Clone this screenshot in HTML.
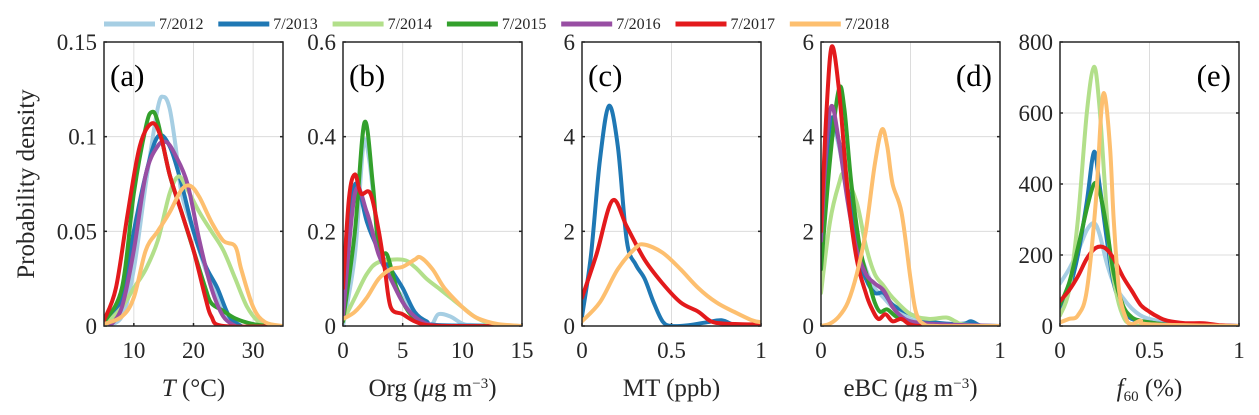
<!DOCTYPE html>
<html><head><meta charset="utf-8"><style>
html,body{margin:0;padding:0;background:#fff;}
svg{display:block;font-family:"Liberation Serif",serif;}
</style></head><body>
<svg id="chart" width="1259" height="415" viewBox="0 0 1259 415" xmlns="http://www.w3.org/2000/svg"></svg>
<script>
const years = ["7/2012","7/2013","7/2014","7/2015","7/2016","7/2017","7/2018"];
const colors = ["#a6cee3","#1f78b4","#b2df8a","#33a02c","#984ea3","#e31a1c","#fdbf6f"];

// Panel (a) T
const aX = {
 "7/2012":[5,8,10,12,14,15,16,17,18,20,22,24,26,28],
 "7/2013":[5,8,10,12,14,16,18,20,22,24,26,28],
 "7/2014":[5,8,10,12,14,16,17.5,19,21,23,25,27,29,31,33],
 "7/2015":[5,8,10,12,13,14,16,18,20,22,23,25,27,30,33],
 "7/2016":[6,8,10,12,14,15.5,17,19,21,23,25,27],
 "7/2017":[5,7,9,11,13,14.5,16,18,20,22,23,25,35],
 "7/2018":[5,8,10,12,14,16,18,19.5,21,23,25,27,28,30,32,35]};
const aY = {
 "7/2012":[0,0.005,0.03,0.075,0.115,0.121,0.115,0.095,0.07,0.05,0.03,0.015,0.003,0],
 "7/2013":[0,0.015,0.05,0.08,0.1,0.095,0.075,0.05,0.032,0.02,0.005,0],
 "7/2014":[0,0.01,0.02,0.03,0.045,0.07,0.079,0.072,0.06,0.05,0.04,0.025,0.01,0.002,0],
 "7/2015":[0.002,0.02,0.07,0.105,0.113,0.108,0.08,0.06,0.04,0.02,0.012,0.008,0.004,0.001,0],
 "7/2016":[0,0.01,0.04,0.08,0.095,0.097,0.09,0.075,0.045,0.02,0.005,0],
 "7/2017":[0.003,0.02,0.06,0.095,0.107,0.1,0.08,0.06,0.04,0.015,0.005,0,0],
 "7/2018":[0.001,0.005,0.015,0.04,0.05,0.06,0.072,0.074,0.068,0.055,0.045,0.042,0.03,0.01,0.002,0]};
// Panel (b) Org
const bX = {
 "7/2012":[0,1,1.7,2.2,3,4,5,6,7,7.5,8,9,10,11,15],
 "7/2013":[0,0.7,1.2,2,3,4,5,6,7,8,15],
 "7/2014":[0,1,2,3,5,6,7,8,9,10,11,12,13,15],
 "7/2015":[0,1,1.8,2.5,3,3.7,4.5,5.5,6.5,7.5,15],
 "7/2016":[0,1,2,3,4,5,6,7,8],
 "7/2017":[0,0.5,1,1.5,2.3,3,3.5,4,5,6,7,9,15],
 "7/2018":[0,1,2,3,4,5,6,6.5,7.5,8.5,10,11,12,13,15]};
const bY = {
 "7/2012":[0,0.15,0.38,0.35,0.18,0.1,0.06,0.02,0.005,0.005,0.025,0.02,0.005,0.002,0],
 "7/2013":[0.02,0.25,0.3,0.22,0.16,0.12,0.08,0.03,0.01,0.002,0],
 "7/2014":[0.01,0.06,0.11,0.135,0.14,0.125,0.1,0.08,0.06,0.04,0.02,0.008,0.002,0],
 "7/2015":[0.01,0.2,0.43,0.3,0.16,0.15,0.08,0.03,0.01,0,0],
 "7/2016":[0.02,0.28,0.24,0.15,0.1,0.05,0.02,0.005,0],
 "7/2017":[0.08,0.27,0.32,0.28,0.28,0.2,0.12,0.04,0.025,0.01,0.002,0,0],
 "7/2018":[0.015,0.03,0.06,0.1,0.12,0.125,0.14,0.145,0.12,0.08,0.04,0.02,0.01,0.004,0]};
// Panel (c) MT
const cX = {
 "7/2013":[0,0.05,0.1,0.15,0.2,0.25,0.3,0.35,0.4,0.45,0.5,0.6,0.7,0.78,0.85,0.9,1],
 "7/2017":[0,0.08,0.17,0.25,0.35,0.45,0.55,0.65,0.72,0.8,1],
 "7/2018":[0,0.1,0.2,0.3,0.35,0.45,0.55,0.65,0.75,0.85,0.95,1]};
const cY = {
 "7/2013":[0.2,1.5,3.5,4.65,3.8,1.8,1.3,1.0,0.5,0.1,0,0.02,0.08,0.12,0.02,0,0.05],
 "7/2017":[0.6,1.5,2.65,2.1,1.4,0.9,0.5,0.3,0.1,0.05,0.03],
 "7/2018":[0.1,0.5,1.2,1.65,1.72,1.55,1.2,0.8,0.5,0.3,0.12,0.08]};
// Panel (d) eBC
const dX = {
 "7/2012":[0,0.03,0.06,0.1,0.15,0.2,0.25,0.3,0.35,0.4,0.5,0.6,0.8,1],
 "7/2013":[0,0.03,0.06,0.1,0.15,0.2,0.25,0.3,0.35,0.4,0.5,0.6,0.7,0.8,0.84,0.9,1],
 "7/2014":[0,0.05,0.1,0.13,0.2,0.25,0.3,0.35,0.4,0.5,0.6,0.7,0.75,0.8,1],
 "7/2015":[0,0.05,0.1,0.13,0.17,0.22,0.27,0.3,0.33,0.37,0.42,0.5,0.6,1],
 "7/2016":[0,0.03,0.06,0.1,0.15,0.2,0.25,0.3,0.35,0.4,0.45,0.5,0.6,0.8,1],
 "7/2017":[0,0.03,0.06,0.1,0.15,0.2,0.25,0.28,0.32,0.36,0.4,0.45,0.5,0.6,1],
 "7/2018":[0,0.05,0.1,0.15,0.2,0.25,0.3,0.34,0.37,0.4,0.45,0.5,0.53,0.57,0.65,1]};
const dY = {
 "7/2012":[1.5,3.5,4.3,3.8,2.8,1.8,1.2,0.8,0.6,0.4,0.15,0.05,0.02,0],
 "7/2013":[1.6,3.5,4.4,3.9,2.9,1.6,1.0,0.7,0.7,0.45,0.25,0.1,0.05,0.05,0.1,0,0],
 "7/2014":[0.7,2.2,3.0,3.2,2.6,1.7,1.1,0.85,0.6,0.25,0.15,0.18,0.1,0.03,0],
 "7/2015":[1.2,3.5,5.0,4.6,3.0,1.6,0.9,0.5,0.3,0.35,0.2,0.08,0.02,0],
 "7/2016":[1.8,3.8,4.65,3.9,2.6,1.6,1.1,0.9,0.75,0.4,0.2,0.1,0.05,0.02,0],
 "7/2017":[2.0,4.5,5.9,5.0,2.8,1.4,0.7,0.4,0.15,0.25,0.1,0.15,0.03,0,0],
 "7/2018":[0,0.05,0.2,0.5,1.1,2.0,3.4,4.15,3.8,3.0,2.4,1.0,0.3,0.05,0,0]};
// Panel (e) f60
const eX = {
 "7/2012":[0,0.05,0.1,0.15,0.19,0.22,0.26,0.3,0.35,0.4,0.45,0.5,0.6,0.7,1],
 "7/2013":[0,0.05,0.1,0.15,0.19,0.22,0.26,0.3,0.35,0.4,0.5,0.6,1],
 "7/2014":[0,0.05,0.1,0.15,0.19,0.22,0.25,0.28,0.32,0.36,0.4,0.45,1],
 "7/2015":[0,0.05,0.1,0.15,0.19,0.22,0.26,0.3,0.35,0.4,0.45,0.5,0.6,0.7,1],
 "7/2017":[0,0.05,0.1,0.15,0.2,0.25,0.3,0.35,0.4,0.45,0.5,0.55,0.6,0.7,0.8,0.9,1],
 "7/2018":[0,0.05,0.1,0.15,0.2,0.23,0.25,0.28,0.3,0.33,0.37,0.4,0.45,0.5,1]};
const eY = {
 "7/2012":[120,160,210,270,290,260,180,120,80,50,30,20,10,5,0],
 "7/2013":[40,100,200,350,490,400,250,120,50,20,10,5,0],
 "7/2014":[30,100,300,600,730,620,400,200,80,20,5,0,0],
 "7/2015":[60,120,220,330,400,380,280,150,60,25,15,10,3,0,0],
 "7/2017":[70,100,140,190,220,220,190,140,100,60,40,25,15,8,8,2,0],
 "7/2018":[10,20,30,100,350,600,650,500,300,100,20,5,15,5,0]};

const xTicksA=[10,20,30], xTicksB=[0,5,10,15], xTicks01=[0,0.5,1];
const yTicksA=[0,0.05,0.1,0.15], yTicksB=[0,0.2,0.4,0.6], yTicks6=[0,2,4,6], yTicksE=[0,200,400,600,800];

const NS="http://www.w3.org/2000/svg";
const svg=document.getElementById('chart');
function mk(tag,attrs,parent){const e=document.createElementNS(NS,tag);for(const k in attrs)e.setAttribute(k,attrs[k]);(parent||svg).appendChild(e);return e;}

const topY=42,botY=326,W=179;
const panels=[
 {id:'a',left:104,xmin:5,xmax:35,ymax:0.15,xt:xTicksA,yt:yTicksA,X:aX,Y:aY,lab:'(a)',labRight:false,xl:'<tspan font-style="italic">T</tspan> (°C)'},
 {id:'b',left:343,xmin:0,xmax:15,ymax:0.6,xt:xTicksB,yt:yTicksB,X:bX,Y:bY,lab:'(b)',labRight:false,xl:'Org (<tspan font-style="italic">μ</tspan>g m<tspan baseline-shift="super" font-size="15">−3</tspan>)'},
 {id:'c',left:582,xmin:0,xmax:1,ymax:6,xt:xTicks01,yt:yTicks6,X:cX,Y:cY,lab:'(c)',labRight:false,xl:'MT (ppb)'},
 {id:'d',left:821,xmin:0,xmax:1,ymax:6,xt:xTicks01,yt:yTicks6,X:dX,Y:dY,lab:'(d)',labRight:true,xl:'eBC (<tspan font-style="italic">μ</tspan>g m<tspan baseline-shift="super" font-size="15">−3</tspan>)'},
 {id:'e',left:1060,xmin:0,xmax:1,ymax:800,xt:xTicks01,yt:yTicksE,X:eX,Y:eY,lab:'(e)',labRight:true,xl:'<tspan font-style="italic">f</tspan><tspan font-size="15" dy="5">60</tspan><tspan dy="-5"> (%)</tspan>'}
];

function pathFrom(pts){
 let d='M'+pts[0][0].toFixed(1)+','+pts[0][1].toFixed(1);
 for(let i=0;i<pts.length-1;i++){
  const p0=pts[Math.max(0,i-1)],p1=pts[i],p2=pts[i+1],p3=pts[Math.min(pts.length-1,i+2)];
  const c1=[p1[0]+(p2[0]-p0[0])/6,p1[1]+(p2[1]-p0[1])/6];
  const c2=[p2[0]-(p3[0]-p1[0])/6,p2[1]-(p3[1]-p1[1])/6];
  d+=' C'+c1[0].toFixed(1)+','+c1[1].toFixed(1)+' '+c2[0].toFixed(1)+','+c2[1].toFixed(1)+' '+p2[0].toFixed(1)+','+p2[1].toFixed(1);
 }
 return d;
}

const defs=mk('defs',{});
panels.forEach(p=>{
 const sx=v=>p.left+(v-p.xmin)/(p.xmax-p.xmin)*W;
 const sy=v=>botY-v/p.ymax*(botY-topY);
 const g=mk('g',{});
 
 
 const cp=mk('clipPath',{id:'clip-'+p.id},defs);
 mk('rect',{x:p.left,y:topY,width:W,height:botY-topY},cp);
 mk('rect',{x:p.left,y:topY,width:W,height:botY-topY,fill:'#fff'},g);
 p.xt.forEach(t=>{const x=sx(t);
  const l=mk('line',{x1:x,x2:x,y1:topY,y2:botY,stroke:'#dcdcdc','stroke-width':1},g);
  
  
  mk('line',{x1:x,x2:x,y1:botY,y2:botY-3,stroke:'#262626','stroke-width':1.5},g);
  const tx=mk('text',{x:x,y:358,'text-anchor':'middle','font-size':23,fill:'#262626'},g);
  tx.textContent=String(t);
  
  
 });
 p.yt.forEach(t=>{const y=sy(t);
  const l=mk('line',{x1:p.left,x2:p.left+W,y1:y,y2:y,stroke:'#dcdcdc','stroke-width':1},g);
  
  
  mk('line',{x1:p.left,x2:p.left+3,y1:y,y2:y,stroke:'#262626','stroke-width':1.5},g);
  mk('line',{x1:p.left+W,x2:p.left+W-3,y1:y,y2:y,stroke:'#262626','stroke-width':1.5},g);
  const tx=mk('text',{x:p.left-7,y:y+8,'text-anchor':'end','font-size':23,fill:'#262626'},g);
  tx.textContent=String(t);
  
  
 });
 const cg=mk('g',{'clip-path':'url(#clip-'+p.id+')'},g);
 years.forEach((yr,i)=>{
  if(!p.X[yr])return;
  const pts=p.X[yr].map((x,j)=>[sx(x),sy(p.Y[yr][j])]);
  const path=mk('path',{d:pathFrom(pts),fill:'none',stroke:colors[i],'stroke-width':4,'stroke-linejoin':'round','stroke-linecap':'round'},cg);
  
  
 });
 const fr=mk('rect',{x:p.left,y:topY,width:W,height:botY-topY,fill:'none',stroke:'#262626','stroke-width':1.5},g);
 
 
 const lb=mk('text',{x:p.labRight?p.left+W-8:p.left+6,y:86,'text-anchor':p.labRight?'end':'start','font-size':31,fill:'#000'},g);
 lb.textContent=p.lab;
 
 
 const xl=mk('text',{x:p.left+W/2,y:396,'text-anchor':'middle','font-size':25,fill:'#262626'},g);
 xl.innerHTML=p.xl;
 
 
});

const yl=mk('text',{x:0,y:0,'text-anchor':'middle','font-size':25,fill:'#262626',transform:'translate(34,184) rotate(-90)'});
yl.textContent='Probability density';



const lg=mk('g',{});


years.forEach((yr,i)=>{
 const x0=104+i*114.3;
 const e=mk('g',{},lg);
 
 
 mk('line',{x1:x0,x2:x0+51,y1:24,y2:24,stroke:colors[i],'stroke-width':5},e);
 const t=mk('text',{x:x0+55,y:29,'font-size':16,fill:'#262626'},e);
 t.textContent=yr;
});
</script>
</body></html>
